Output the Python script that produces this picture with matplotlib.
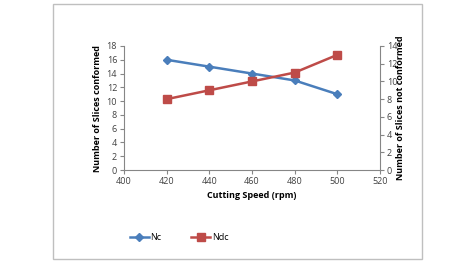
import matplotlib
matplotlib.use("Agg")
import matplotlib.pyplot as plt
from matplotlib.patches import Rectangle

speed = [420, 440, 460, 480, 500]
nc = [16, 15, 14, 13, 11]
ndc = [8, 9, 10, 11, 13]

plt.rcParams['font.family'] = ['Open Sans', 'DejaVu Sans']
fig = plt.figure(figsize=(4.59, 2.63), dpi=100)
fig.patches.append(Rectangle((53/459, 1-259/263), (422-53)/459, (259-4)/263,
                             transform=fig.transFigure, fill=False, edgecolor='#bfbfbf', lw=1))
ax = fig.add_axes([124/459, 1-170/263, (380-124)/459, (170-46)/263])
ax2 = ax.twinx()
blue = '#4A7EBB'
red = '#BE4B48'
l1, = ax.plot(speed, nc, color=blue, marker='D', ms=4, lw=1.8, label='Nc')
l2, = ax2.plot(speed, ndc, color=red, marker='s', ms=6, lw=1.8, label='Ndc')
ax.set_xlim(400, 520)
ax.set_ylim(0, 18)
ax.set_yticks(range(0, 19, 2))
ax.set_xticks(range(400, 521, 20))
ax2.set_ylim(0, 14)
ax2.set_yticks(range(0, 15, 2))
for a in (ax, ax2):
    for s in a.spines.values():
        s.set_visible(False)
    a.tick_params(labelsize=6.5, colors='#404040', length=3, width=0.8, pad=2)
    a.tick_params(color='#868686')
ax.spines['left'].set_visible(True)
ax.spines['bottom'].set_visible(True)
ax.spines['left'].set_color('#868686')
ax.spines['bottom'].set_color('#868686')
ax2.spines['right'].set_visible(True)
ax2.spines['right'].set_color('#868686')
ax.set_ylabel('Number of Slices conformed', fontsize=6.5, fontweight='bold', labelpad=3)
ax2.set_ylabel('Number of Slices not conformed', fontsize=6.5, fontweight='bold', labelpad=-1)
ax.set_xlabel('Cutting Speed (rpm)', fontsize=6.5, fontweight='bold', labelpad=4)
fig.legend(handles=[l1, l2], loc='center', bbox_to_anchor=(179/459, 1-238/263), ncol=2,
           frameon=False, fontsize=6.5, handlelength=2.1, columnspacing=3.3, handletextpad=0.2)
fig.savefig('out.png', dpi=100)
